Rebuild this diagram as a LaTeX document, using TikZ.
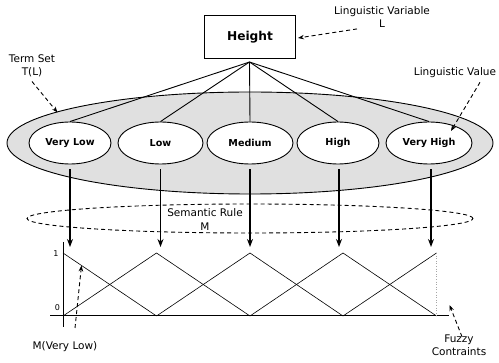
\documentclass[tikz,border=0pt]{standalone}
\usepackage{fontspec}
\setmainfont{DejaVu Sans}
\usetikzlibrary{shapes.geometric,arrows.meta}
\definecolor{termgray}{RGB}{224,224,224}
\begin{document}
\begin{tikzpicture}[x=1pt,y=-1pt,
  lbl/.style={font=\fontsize{10.5}{13.5}\selectfont, align=center, inner sep=0pt},
  term/.style={ellipse, draw, line width=0.9pt, fill=white, minimum height=42pt, inner sep=0pt, font=\fontsize{9.6}{11}\selectfont\bfseries},
  fan/.style={line width=0.9pt},
  down/.style={line width=1.5pt, -{Stealth[length=8pt,width=6pt]}},
  hint/.style={line width=0.9pt, dash pattern=on 4pt off 3pt, -{Stealth[length=6pt,width=4.5pt]}},
  mf/.style={line width=0.6pt}]
\useasboundingbox (0,0) rectangle (499,363);
% term set ellipse
\node[ellipse, draw, line width=0.9pt, fill=termgray, minimum width=486pt, minimum height=102pt, inner sep=0pt] (tset) at (250,143) {};
% Height box
\node[draw, line width=1.3pt, minimum width=91pt, minimum height=43pt, inner sep=0pt, font=\fontsize{12.2}{14}\selectfont\bfseries] (height) at (250,37) {Height};
\coordinate (hub) at (249.5,62);
% terms
\node[term, minimum width=82pt] (vl) at (70,143) {Very Low};
\node[term, minimum width=85pt] (lo) at (160.5,143) {Low};
\node[term, minimum width=86pt] (me) at (250,143) {Medium};
\node[term, minimum width=82pt] (hi) at (338,143) {High};
\node[term, minimum width=86pt] (vh) at (429,143) {Very High};
\foreach \t in {vl,lo,me,hi,vh} \draw[fan] (hub) -- (\t.north);
% semantic rule
\node[ellipse, draw, line width=0.9pt, dash pattern=on 4pt off 3pt, minimum width=446pt, minimum height=29pt, inner sep=0pt] (srule) at (250,218.5) {};
\node[lbl] (srtxt) at (205,219.5) {Semantic Rule\\M};
% arrow ends
\coordinate (evl) at (70,247);
\coordinate (elo) at (160.5,247);
\coordinate (eme) at (250,247);
\coordinate (ehi) at (339,247);
\coordinate (evh) at (431,247);
\draw[down] ([yshift=-5pt]vl.south) -- (evl);
\draw[down] ([yshift=-5pt]lo.south) -- (elo);
\draw[down] ([yshift=-5pt]me.south) -- (eme);
\draw[down] ([xshift=1pt,yshift=-5pt]hi.south) -- (ehi);
\draw[down] ([xshift=2pt,yshift=-5pt]vh.south) -- (evh);
% chart
\coordinate (ytop) at (63,242);
\coordinate (ybot) at (63,327);
\coordinate (xl) at (50,316);
\coordinate (xr) at (449,316);
\draw[line width=1pt] (ytop) -- (ybot);
\draw[line width=1pt] (xl) -- (xr);
\coordinate (b0) at (63,316); \coordinate (p0) at (63,253);
\coordinate (b1) at (156.5,316); \coordinate (p1) at (156.5,253);
\coordinate (b2) at (250,316); \coordinate (p2) at (250,253);
\coordinate (b3) at (343,316); \coordinate (p3) at (343,253);
\coordinate (b4) at (436.5,316); \coordinate (p4) at (436.5,253);
\draw[mf] (p0) -- (b1);
\draw[mf] (b0) -- (p1) -- (b2);
\draw[mf] (b1) -- (p2) -- (b3);
\draw[mf] (b2) -- (p3) -- (b4);
\draw[mf] (b3) -- (p4);
\draw[gray!70, line width=0.6pt, dotted] (p4) -- (b4);
\node[font=\fontsize{8}{9}\selectfont, inner sep=0pt] (one) at (56,254) {1};
\node[font=\fontsize{8}{9}\selectfont, inner sep=0pt] (zero) at (57.5,308) {0};
% annotations
\node[lbl] (lvar) at (382,17) {Linguistic Variable\\L};
\coordinate (lvarT) at (298,38);
\draw[hint] ([xshift=-25pt,yshift=-1pt]lvar.south) -- (lvarT);
\node[lbl] (tsl) at (32,66) {Term Set\\T(L)};
\coordinate (tslT) at (57.5,112.5);
\draw[hint] ([yshift=-4pt]tsl.south) -- (tslT);
\node[lbl] (lval) at (455,73) {Linguistic Value};
\coordinate (lvalT) at (451,131);
\draw[hint] ([xshift=25pt,yshift=-4pt]lval.south) -- (lvalT);
\node[lbl] (mvl) at (65,347) {M(Very Low)};
\coordinate (mvlS) at (75,328);
\coordinate (mvlT) at (81.5,265.5);
\draw[hint] (mvlS) -- (mvlT);
\node[lbl] (fz) at (459,345.5) {Fuzzy\\Contraints};
\coordinate (fzT) at (449.5,305);
\draw[hint] ([xshift=3pt,yshift=-2pt]fz.north) -- (fzT);
\end{tikzpicture}
\end{document}
